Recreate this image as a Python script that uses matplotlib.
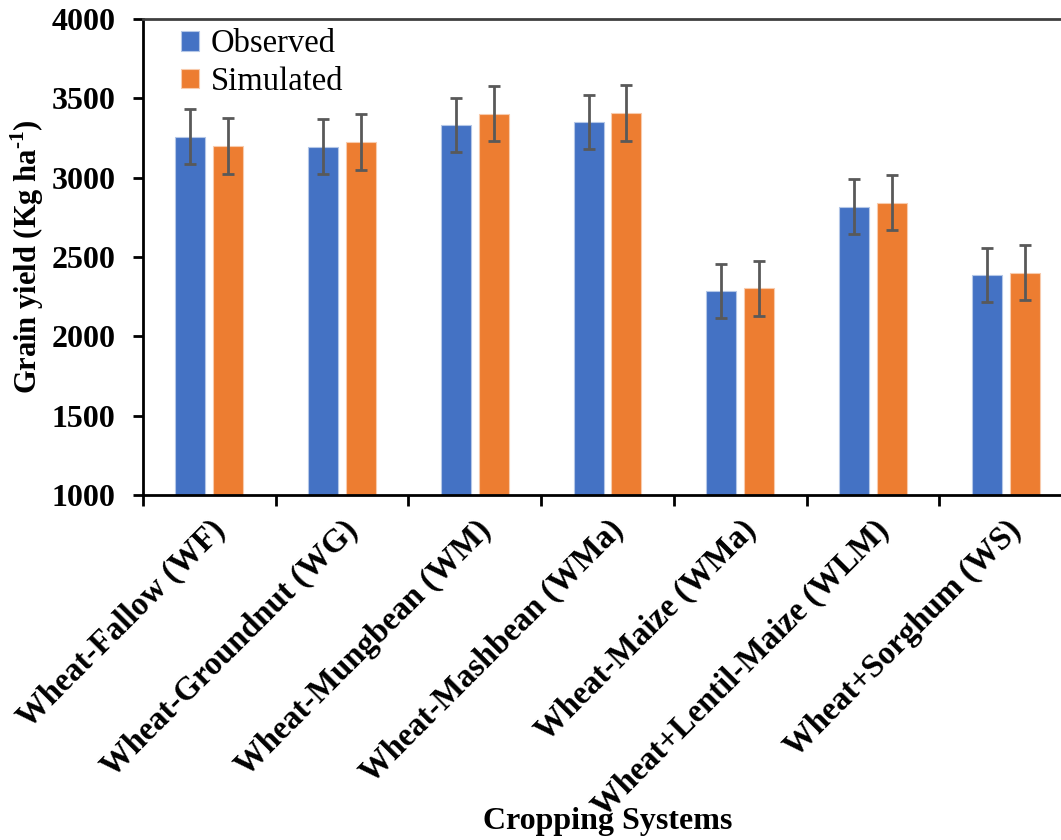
import numpy as np
import matplotlib.pyplot as plt

systems = ['Wheat-Fallow (WF)', 'Wheat-Groundnut (WG)', 'Wheat-Mungbean (WM)',
           'Wheat-Mashbean (WMa)', 'Wheat-Maize (WMa)', 'Wheat+Lentil-Maize (WLM)',
           'Wheat+Sorghum (WS)']
observed = [3258, 3195, 3333, 3350, 2287, 2817, 2388]
simulated = [3200, 3225, 3403, 3406, 2302, 2843, 2401]
observed_err = [172, 172, 172, 172, 171, 172, 171]
simulated_err = [175, 175, 175, 175, 175, 175, 175]

plt.rcParams['font.family'] = ['Liberation Serif', 'DejaVu Serif']
plt.rcParams['mathtext.fontset'] = 'custom'
plt.rcParams['mathtext.rm'] = 'Liberation Serif:bold'
plt.rcParams['mathtext.bf'] = 'Liberation Serif:bold'

fig = plt.figure(figsize=(10.61, 8.40), dpi=100)
ax = fig.add_axes([143 / 1061, 1 - 495 / 840, (1072 - 143) / 1061, (495 - 19) / 840])

x = np.arange(len(systems))
w = 0.226
off = 0.143
err_kw = dict(ecolor='#595959', elinewidth=2, capsize=4.2, capthick=2)
ax.bar(x - off, observed, w, yerr=observed_err, color='#4472C4', edgecolor='#B4C7E7',
       linewidth=0.8, label='Observed', error_kw=err_kw, zorder=2)
ax.bar(x + off, simulated, w, yerr=simulated_err, color='#ED7D31', edgecolor='#F8CBAD',
       linewidth=0.8, label='Simulated', error_kw=err_kw, zorder=2)

ax.set_xlim(-0.5, 6.5)
ax.set_ylim(1000, 4000)
ax.set_yticks(np.arange(1000, 4001, 500))

ax.set_xticks(x)
ax.set_xticklabels(systems, rotation=45, ha='right', va='top', rotation_mode='anchor',
                   fontsize=23.5, fontweight='bold')
ax.set_xticks(np.arange(-0.5, 6.5, 1), minor=True)
ax.tick_params(axis='x', which='major', length=0, pad=14)
ax.tick_params(axis='x', which='minor', length=8, width=2, direction='out')
ax.tick_params(axis='y', length=7, width=2, direction='out', pad=13)
for lab in ax.get_yticklabels():
    lab.set_fontsize(23)
    lab.set_fontweight('bold')

for s in ['left', 'bottom']:
    ax.spines[s].set_linewidth(2)
    ax.spines[s].set_color('black')
ax.spines['top'].set_color('#404040')
ax.spines['top'].set_linewidth(2)
ax.spines['right'].set_visible(False)

ax.set_ylabel('Grain yield (Kg ha$^{\\text{-1}}$)', fontsize=22, fontweight='bold', labelpad=4)
fig.text(608 / 1061, 1 - 821 / 840, 'Cropping Systems', ha='center', va='center',
         fontsize=23, fontweight='bold')

ax.legend(loc='upper left', bbox_to_anchor=(0.027, 1.007), frameon=False, fontsize=23.5,
          handlelength=0.55, handleheight=0.55, handletextpad=0.35, labelspacing=0.22,
          borderaxespad=0)

fig.savefig('out.png', dpi=100)
